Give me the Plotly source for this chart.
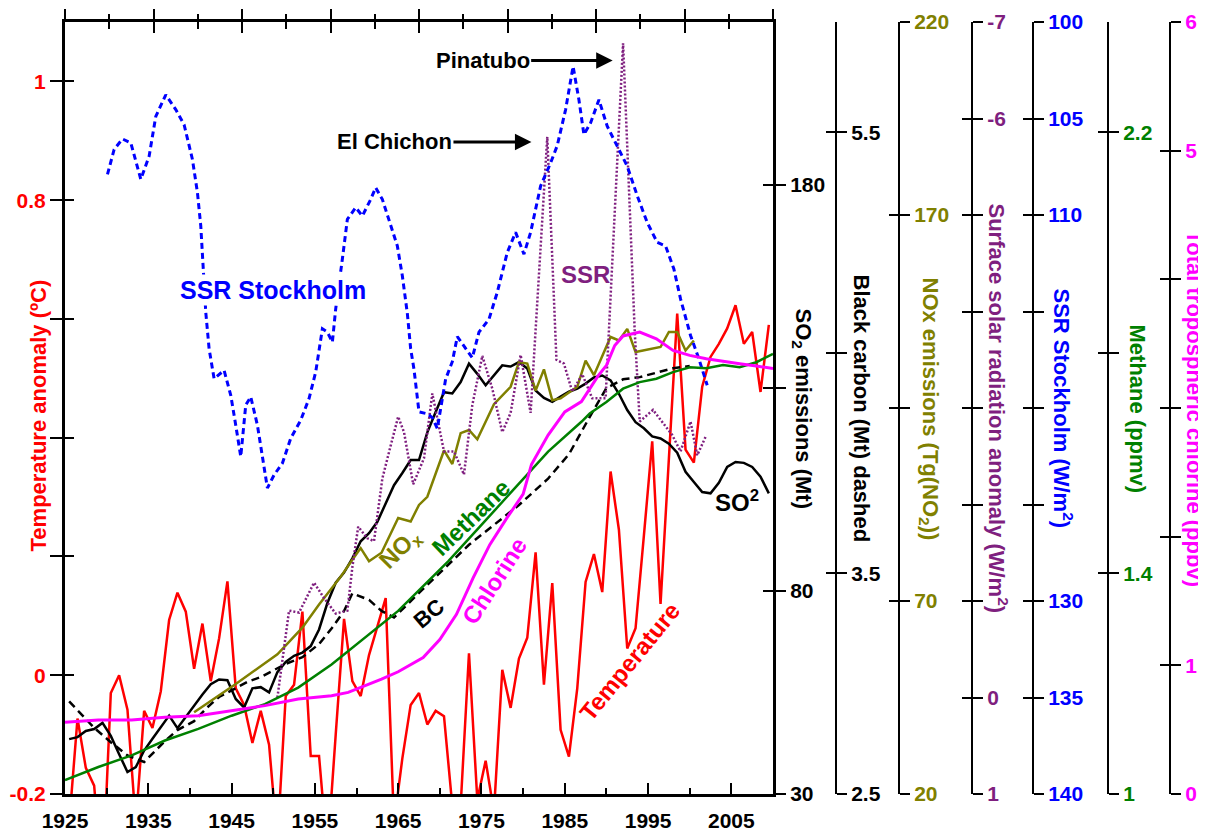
import plotly.graph_objects as go

# ---------------- data ----------------
# Global temperature anomaly (deg C), annual, plotted at mid-year
temp_years = list(range(1925, 2010))
temp_anomaly = [
    -0.25, -0.073, -0.156, -0.186, -0.35, -0.03, 0.0, -0.058, -0.25, -0.06,
    -0.089, -0.027, 0.093, 0.139, 0.107, 0.011, 0.087, -0.01, 0.062, 0.158,
    -0.022, -0.05, -0.114, -0.06, -0.117, -0.28, -0.035, -0.016, 0.107, -0.136,
    -0.136, -0.30, -0.10, 0.095, -0.01, -0.035, 0.034, 0.084, 0.13, -0.25,
    -0.14, -0.05, -0.03, -0.083, -0.06, -0.069, -0.22, -0.22, 0.037, -0.21,
    -0.144, -0.23, 0.009, -0.055, 0.028, 0.063, 0.207, -0.016, 0.155, -0.092,
    -0.137, -0.022, 0.157, 0.204, 0.14, 0.343, 0.245, 0.045, 0.079, 0.235,
    0.394, 0.12, 0.365, 0.609, 0.38, 0.358, 0.486, 0.536, 0.558, 0.584,
    0.623, 0.558, 0.578, 0.477, 0.59,
]

# SO2 emissions (Mt), annual, plotted at mid-year
so2_years = list(range(1925, 2010))
so2_mt = [
    43.5, 44, 45.5, 46, 47.5, 44.3, 39.8, 35.4, 36.6, 40.7,
    43.6, 46.5, 49.3, 46.2, 49, 52, 54.5, 57, 58.2, 58,
    53.4, 51.3, 56, 56.3, 55, 60, 62.5, 64, 64.8, 66.4,
    70.5, 77, 82, 84.5, 88, 92.2, 94.2, 97, 101.5, 106,
    109, 112.2, 112.2, 119, 124, 128.9, 128.6, 131.4, 135.9, 133.4,
    130.6, 133, 135.5, 135.2, 136.3, 134.7, 129.3, 127.5, 126.5, 127.8,
    129, 129.8, 131, 132.5, 133, 131.8, 128.5, 124.5, 121.5, 120,
    118, 117.5, 116.2, 114, 109.3, 106.8, 104.3, 104, 106.6, 110.5,
    111.7, 111.5, 110.5, 108.1, 104,
]

# Black carbon (Mt), dashed
bc_years = [1925.5, 1928.5, 1930.5, 1932.5, 1934.5, 1937, 1938.5, 1940.5, 1942, 1943.5,
            1945.5, 1947, 1948.5, 1950, 1951.5, 1953.5, 1955.5, 1957, 1958.5, 1959.5,
            1961.5, 1963, 1964.5, 1968, 1971, 1973.5, 1976.5, 1979.5, 1983, 1985.5,
            1988, 1990, 1992, 1994, 1996, 1998, 2000]
bc_mt = [2.92, 2.80, 2.735, 2.675, 2.645, 2.74, 2.79, 2.83, 2.89, 2.94,
         2.98, 3.01, 3.03, 3.06, 3.09, 3.12, 3.18, 3.25, 3.33, 3.41,
         3.38, 3.33, 3.30, 3.43, 3.54, 3.63, 3.72, 3.81, 3.93, 4.04,
         4.21, 4.34, 4.38, 4.39, 4.41, 4.43, 4.44]

# NOx emissions (Tg(NO2))
nox_years = [1940.5, 1945.5, 1950.5, 1953.5, 1955.5, 1958, 1959.5, 1960.5, 1961.5, 1963,
             1965, 1966.5, 1967.5, 1968.5, 1970.5, 1971.5, 1972.5, 1973.5, 1974.5, 1976.5,
             1978.5, 1979.5, 1980.5, 1981.5, 1982.5, 1983.5, 1984.5, 1986.5, 1987.5, 1988.5,
             1990.5, 1991.5, 1992.5, 1993.5, 1996.5, 1997.5, 1998.5, 1999.5, 2000.5]
nox_tg = [41.2, 48.5, 56.2, 63.1, 69.1, 76, 80.7, 83.7, 80.3, 82.5,
          91.5, 90.6, 94.9, 97, 109, 105.5, 113.5, 114.3, 111.9, 121,
          125.5, 131.9, 131.5, 124.5, 130, 122, 122.5, 125.5, 132.3, 128.5,
          138.4, 137.5, 140.5, 134.5, 135.8, 139.7, 139.7, 134.9, 137.5]

# Surface solar radiation anomaly (W/m2), dotted
ssr_years = [1950.5, 1951.9, 1953.1, 1954.9, 1956.1, 1957.5, 1958.9, 1959.5, 1960.2, 1961.3,
             1962.1, 1963.1, 1964.1, 1965.0, 1965.7, 1966.8, 1968.1, 1969.1, 1970.5, 1971.7,
             1972.9, 1973.9, 1975.1, 1976.3, 1977.5, 1978.5, 1979.7, 1980.9, 1982.9, 1984.0,
             1984.9, 1985.9, 1987.1, 1988.3, 1989.9, 1992.0, 1993.4, 1994.0, 1995.6, 1997.9,
             1998.9, 2000.1, 2000.9, 2001.9]
ssr_anomaly = [0.0, -0.90, -0.88, -1.19, -1.03, -0.87, -0.90, -1.35, -1.77, -1.65,
               -1.62, -2.27, -2.61, -2.91, -2.75, -2.21, -2.48, -3.15, -2.55, -2.55,
               -2.31, -3.03, -3.54, -3.20, -2.75, -2.95, -3.55, -2.95, -5.81, -3.50,
               -3.46, -3.17, -3.35, -3.10, -3.10, -6.78, -3.79, -2.86, -2.98, -2.72,
               -2.55, -2.86, -2.51, -2.70]

# SSR Stockholm (W/m2), blue dashed
sto_years = [1930.1, 1930.9, 1931.9, 1932.9, 1934.1, 1935.1, 1935.9, 1937.1, 1938.3, 1939.3,
             1940.3, 1940.9, 1941.3, 1941.5, 1941.9, 1942.3, 1942.9, 1944.1, 1944.9, 1945.5,
             1946.1, 1946.7, 1947.3, 1948.1, 1948.7, 1949.3, 1950.1, 1951.1, 1952.1, 1953.3,
             1954.3, 1955.1, 1955.9, 1956.5, 1957.1, 1957.5, 1958.3, 1958.9, 1959.9, 1960.7,
             1961.7, 1962.3, 1963.1, 1964.1, 1964.9, 1965.5, 1966.1, 1966.5, 1966.9, 1967.5,
             1968.5, 1969.1, 1969.7, 1970.7, 1971.5, 1972.1, 1973.1, 1973.9, 1974.7, 1975.9,
             1976.9, 1978.1, 1979.1, 1980.1, 1980.9, 1982.1, 1983.3, 1984.1, 1985.1, 1986.0,
             1986.7, 1987.3, 1988.1, 1989.1, 1990.1, 1991.5, 1992.5, 1993.7, 1994.9, 1996.1,
             1997.1, 1998.1, 1998.9, 2000.1, 2001.1, 2002.1]
sto_ssr = [107.9, 106.6, 106.06, 106.26, 108.15, 106.95, 104.89, 103.77, 104.54, 105.32,
           107.12, 108.84, 110.56, 112.28, 115.04, 116.93, 118.48, 118.05, 119.34, 120.89,
           122.52, 119.85, 119.42, 120.89, 122.6, 124.15, 123.47, 122.86, 121.57, 120.63,
           119.51, 118.13, 115.9, 116.07, 116.59, 114.86, 112.28, 110.22, 109.61, 110.05,
           109.19, 108.58, 109.19, 110.5, 111.6, 113.15, 115.1, 116.93, 118.0, 120.2,
           120.3, 120.5, 121.06, 118.5, 117.6, 116.3, 116.9, 117.4, 116.07, 115.4,
           114.0, 111.94, 110.9, 112.03, 110.9, 108.5, 107.3, 106.4, 104.54, 102.3,
           104.03, 105.83, 105.23, 104.03, 105.4, 106.6, 107.47, 109.0, 110.39, 111.42,
           111.6, 112.8, 114.35, 116.24, 117.45, 118.82]

# Methane (ppmv)
ch4_years = [1925, 1929, 1933, 1937, 1941, 1945, 1949, 1953, 1957, 1961,
             1965, 1967, 1971, 1975, 1979, 1983, 1987, 1988, 1990, 1992,
             1994, 1996, 1998, 2000, 2002, 2004, 2006, 2008, 2010]
ch4_ppmv = [1.025, 1.049, 1.070, 1.097, 1.118, 1.142, 1.163, 1.193, 1.235, 1.284,
            1.332, 1.362, 1.422, 1.488, 1.555, 1.621, 1.675, 1.69, 1.711, 1.735,
            1.747, 1.753, 1.765, 1.774, 1.772, 1.778, 1.774, 1.783, 1.798]

# Total tropospheric chlorine (ppbv)
cl_years = [1925, 1929, 1933, 1937, 1941, 1945, 1949, 1953, 1957, 1959,
            1961, 1963, 1965, 1968, 1970, 1972, 1974, 1976, 1978, 1980,
            1981, 1983, 1985, 1987, 1989, 1990, 1991, 1992, 1994, 1996,
            1998, 2000, 2002, 2004, 2006, 2008, 2010]
cl_ppbv = [0.557, 0.575, 0.575, 0.596, 0.609, 0.648, 0.687, 0.738, 0.764, 0.79,
           0.841, 0.893, 0.95, 1.06, 1.2, 1.396, 1.68, 1.938, 2.14, 2.33,
           2.56, 2.79, 2.97, 3.05, 3.25, 3.331, 3.486, 3.56, 3.59, 3.538,
           3.447, 3.409, 3.383, 3.362, 3.344, 3.327, 3.306]

x_major = list(range(1925, 2006, 10))
x_minor = list(range(1930, 2001, 10))

# ---------------- styling ----------------
FONT = "Liberation Sans, Arial, Helvetica, sans-serif"
RED = "#ff0000"
BLUE = "#0000ff"
OLIVE = "#808000"
PURPLE = "#7f1f7f"
GREEN = "#008000"
MAGENTA = "#ff00ff"

# screen geometry (the page body has an 8px default margin)
OFF = 8
SCREEN_W, SCREEN_H = 1206, 832
PLOT_LEFT, PLOT_TOP, PLOT_BOTTOM, MAIN_RIGHT = 65, 22, 797, 773
W, H = SCREEN_W - OFF, SCREEN_H - OFF
L, T, R, B = PLOT_LEFT - OFF, PLOT_TOP - OFF, 0, SCREEN_H - PLOT_BOTTOM
plot_w = W - L - R
plot_h = H - T - B
xdom = (MAIN_RIGHT - PLOT_LEFT) / plot_w


def paper_x(px):
    return (px - PLOT_LEFT) / plot_w


def paper_y(py):
    return (PLOT_BOTTOM - py) / plot_h


def bold(size, color="black"):
    return dict(family=FONT, size=size, color=color, weight="bold")


mid = 0.5  # annual series are drawn at mid-year

fig = go.Figure()

fig.add_trace(go.Scatter(x=sto_years, y=sto_ssr, yaxis="y6", mode="lines",
                         line=dict(color=BLUE, width=3, dash="6px,4px")))
fig.add_trace(go.Scatter(x=ssr_years, y=ssr_anomaly, yaxis="y5", mode="lines",
                         line=dict(color=PURPLE, width=2.5, dash="2px,2px")))
fig.add_trace(go.Scatter(x=nox_years, y=nox_tg, yaxis="y4", mode="lines",
                         line=dict(color=OLIVE, width=2.5)))
fig.add_trace(go.Scatter(x=[y + mid for y in so2_years], y=so2_mt, yaxis="y2", mode="lines",
                         line=dict(color="black", width=2.5)))
fig.add_trace(go.Scatter(x=bc_years, y=bc_mt, yaxis="y3", mode="lines",
                         line=dict(color="black", width=2.5, dash="8px,5px")))
fig.add_trace(go.Scatter(x=ch4_years, y=ch4_ppmv, yaxis="y7", mode="lines",
                         line=dict(color=GREEN, width=2.5)))
fig.add_trace(go.Scatter(x=cl_years, y=cl_ppbv, yaxis="y8", mode="lines",
                         line=dict(color=MAGENTA, width=3)))
fig.add_trace(go.Scatter(x=[y + mid for y in temp_years], y=temp_anomaly, yaxis="y", mode="lines",
                         line=dict(color=RED, width=2.5)))

# ---------------- axes ----------------
layout = dict(
    width=W, height=H,
    margin=dict(l=L, r=R, t=T, b=B),
    plot_bgcolor="white", paper_bgcolor="white",
    showlegend=False,
    xaxis=dict(domain=[0, xdom], range=[1925, 2010], tickvals=x_major,
               ticks="inside", ticklen=11, tickwidth=2, tickcolor="black",
               minor=dict(tickvals=x_minor, ticks="inside", ticklen=6, tickwidth=2, tickcolor="black"),
               showline=True, linewidth=3, linecolor="black",
               showgrid=False, zeroline=False, tickfont=bold(21), ticklabelstandoff=6),
    xaxis2=dict(overlaying="x", side="top", anchor="y", range=[0, 8], tickvals=list(range(9)),
                ticks="outside", ticklen=10, tickwidth=2, tickcolor="black",
                minor=dict(tickvals=[i + 0.5 for i in range(8)], ticks="outside", ticklen=5,
                           tickwidth=2, tickcolor="black"),
                showticklabels=False, showline=True, linewidth=3, linecolor="black",
                showgrid=False, zeroline=False),
    xaxis3=dict(overlaying="x", side="top", anchor="y", range=[0, 8], tickvals=list(range(9)),
                ticks="inside", ticklen=11, tickwidth=2, tickcolor="black",
                minor=dict(tickvals=[i + 0.5 for i in range(8)], ticks="inside", ticklen=7,
                           tickwidth=2, tickcolor="black"),
                showticklabels=False, showline=False, showgrid=False, zeroline=False),
    yaxis=dict(range=[-0.2, 1.1], tickvals=[-0.2, 0, 0.2, 0.4, 0.6, 0.8, 1.0],
               ticktext=["-0.2", "0", "", "", "", "0.8", "1"],
               ticks="outside", ticklen=12, tickwidth=2, tickcolor="black",
               showline=True, linewidth=3, linecolor="black",
               showgrid=False, zeroline=False, tickfont=bold(21, RED)),
    yaxis9=dict(overlaying="y", side="left", anchor="x", range=[-0.2, 1.1],
                tickvals=[-0.2, 0, 0.2, 0.4, 0.6, 0.8, 1.0], ticks="inside", ticklen=9,
                tickwidth=2, tickcolor="black", showticklabels=False, showline=False,
                showgrid=False, zeroline=False),
)

axes_spec = [
    # key, range, tickvals, ticktext, colour, axis px (None = frame), title, title px
    (2, [30, 220], [30, 80, 130, 180], ["30", "80", "", "180"], "black", None,
     "SO<sub>2</sub> emissions (Mt)", 802),
    (3, [2.5, 6.0], [2.5, 3.5, 4.5, 5.5], ["2.5", "3.5", "", "5.5"], "black", 836,
     "Black carbon (Mt) dashed", 862),
    (4, [20, 220], [20, 70, 120, 170, 220], ["20", "70", "", "170", "220"], OLIVE, 899,
     "NOx emissions (Tg(NO<sub>2</sub>))", 929),
    (5, [1, -7], list(range(-7, 2)), ["-7", "-6", "", "", "", "", "", "0", "1"], PURPLE, 972,
     "Surface solar radiation anomaly (W/m<sup>2</sup>)", 998),
    (6, [140, 100], list(range(100, 141, 5)), ["100", "105", "110", "", "", "", "130", "135", "140"],
     BLUE, 1033, "SSR Stockholm (W/m<sup>2</sup>)", 1063),
    (7, [1, 2.4], [1, 1.4, 1.8, 2.2], ["1", "1.4", "", "2.2"], GREEN, 1108, "Methane (ppmv)", 1138),
    (8, [0, 6], list(range(0, 7)), ["0", "1", "", "", "", "5", "6"], MAGENTA, 1170,
     "Total tropospheric chlorine (ppbv)", 1195),
]

annotations = []
for n, rng, tv, tt, col, apx, title, tpx in axes_spec:
    if apx is None:
        place = dict(anchor="x")
        lw = 3
    else:
        place = dict(anchor="free", position=paper_x(apx))
        lw = 2
    layout[f"yaxis{n}"] = dict(overlaying="y", side="right", range=rng, tickvals=tv, ticktext=tt,
                               ticks="outside", ticklen=10, tickwidth=2, tickcolor="black",
                               showline=True, linewidth=lw, linecolor="black",
                               showgrid=False, zeroline=False, tickfont=bold(21, col), **place)
    layout[f"yaxis{n + 8}"] = dict(overlaying="y", side="right", range=rng, tickvals=tv,
                                   ticks="inside", ticklen=10, tickwidth=2, tickcolor="black",
                                   showticklabels=False, showline=False,
                                   showgrid=False, zeroline=False, **place)
    fig.add_trace(go.Scatter(x=[], y=[], yaxis=f"y{n + 8}", mode="lines", hoverinfo="skip"))
    annotations.append(dict(text=title, xref="paper", yref="paper", x=paper_x(tpx), y=paper_y(410),
                            textangle=90, showarrow=False, font=bold(22, col),
                            xanchor="center", yanchor="middle"))

fig.add_trace(go.Scatter(x=[], y=[], yaxis="y9", mode="lines", hoverinfo="skip"))
fig.add_trace(go.Scatter(x=[], y=[], xaxis="x2", yaxis="y", mode="lines", hoverinfo="skip"))
fig.add_trace(go.Scatter(x=[], y=[], xaxis="x3", yaxis="y", mode="lines", hoverinfo="skip"))

annotations.append(dict(text="Temperature anomaly (ºC)", xref="paper", yref="paper",
                        x=paper_x(38), y=paper_y(417), textangle=-90, showarrow=False,
                        font=bold(22, RED), xanchor="center", yanchor="middle"))

# series labels
labels = [
    ("SSR Stockholm", 1949.93, 0.648, 0, 25, BLUE, "white"),
    ("SSR", 1987.5, 0.675, 0, 24, PURPLE, None),
    ("NO<sub>x</sub>", 1965.3, 0.211, -45, 24, OLIVE, None),
    ("Methane", 1973.7, 0.266, -44, 24, GREEN, None),
    ("BC", 1968.7, 0.104, -40, 22, "black", None),
    ("Chlorine", 1976.6, 0.159, -57, 24, MAGENTA, None),
    ("Temperature", 1992.8, 0.023, -51, 24, RED, None),
    ("SO<sup>2</sup>", 2005.7, 0.293, 0, 24, "black", None),
]
for text, x, y, ang, size, col, bg in labels:
    a = dict(text=text, x=x, y=y, xref="x", yref="y", textangle=ang, showarrow=False,
             font=bold(size, col), xanchor="center", yanchor="middle")
    if bg:
        a["bgcolor"] = bg
    annotations.append(a)

# volcano arrows
annotations.append(dict(text="El Chichon", x=1981.0, y=0.898, xref="x", yref="y",
                        ax=-137, ay=0, showarrow=True, arrowhead=2, arrowsize=1.1,
                        arrowwidth=3, arrowcolor="black", font=bold(22)))
annotations.append(dict(text="Pinatubo", x=1990.75, y=1.035, xref="x", yref="y",
                        ax=-130, ay=0, showarrow=True, arrowhead=2, arrowsize=1.1,
                        arrowwidth=3, arrowcolor="black", font=bold(22)))

layout["annotations"] = annotations
fig.update_layout(**layout)

fig.write_html("out.html")
